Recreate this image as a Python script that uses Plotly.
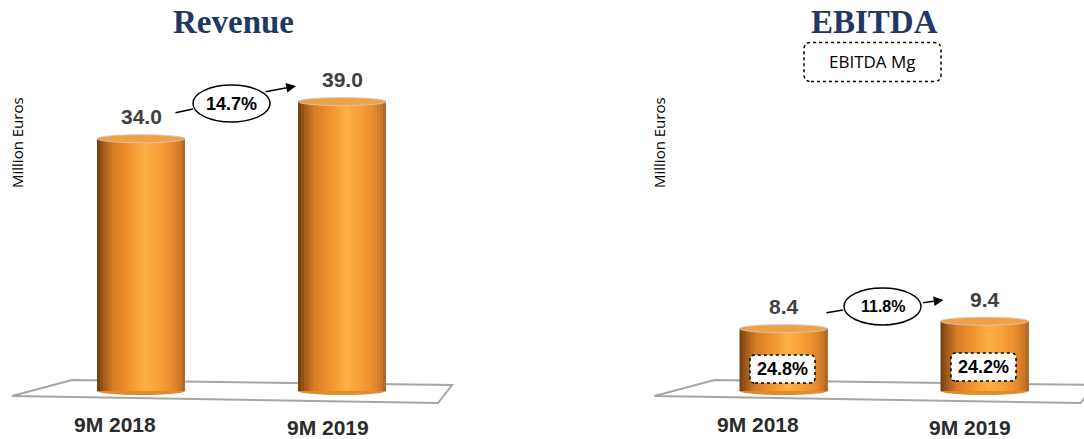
import plotly.graph_objects as go

# ---------------- data ----------------
categories = ["9M 2018", "9M 2019"]
revenue = [34.0, 39.0]
ebitda = [8.4, 9.4]
revenue_labels = ["34.0", "39.0"]
ebitda_labels = ["8.4", "9.4"]
revenue_growth = "14.7%"
ebitda_growth = "11.8%"
ebitda_margin = ["24.8%", "24.2%"]
panel_titles = ["Revenue", "EBITDA"]
y_title = "Million Euros"
margin_box_label = "EBITDA Mg"

# ---------------- layout constants (style) ----------------
W, H = 1084, 439
PX_PER_CAT = 201.0
PX_PER_UNIT = 7.42
BASE_PX = 391.0
BAR_W = 88.0 / PX_PER_CAT
X_LO = -0.7
LEFT_DOM_PX = (141 + X_LO * PX_PER_CAT, 141 + 1.7 * PX_PER_CAT)
RIGHT_START = 783.5 + X_LO * PX_PER_CAT
RIGHT_HI = X_LO + (W - RIGHT_START) / PX_PER_CAT
Y_RANGE = [-(H - BASE_PX) / PX_PER_UNIT, BASE_PX / PX_PER_UNIT]

FONT_NUM = "Liberation Sans, Arial, sans-serif"
FONT_TITLE = "Liberation Serif, Times New Roman, serif"
FONT_BODY = "Open Sans, Noto Sans, sans-serif"

grad_stops = [
    (0.00, (0x6E, 0x3C, 0x12)),
    (0.06, (0x9A, 0x55, 0x18)),
    (0.18, (0xD4, 0x7C, 0x26)),
    (0.35, (0xF0, 0x91, 0x2E)),
    (0.55, (0xFD, 0xB0, 0x43)),
    (0.68, (0xF9, 0xA2, 0x3A)),
    (0.82, (0xEE, 0x91, 0x30)),
    (0.94, (0xD1, 0x7A, 0x28)),
    (1.00, (0xA0, 0x61, 0x2A)),
]


def grad_color(t):
    for (p0, c0), (p1, c1) in zip(grad_stops[:-1], grad_stops[1:]):
        if p0 <= t <= p1:
            f = (t - p0) / (p1 - p0) if p1 > p0 else 0
            c = [round(a + (b - a) * f) for a, b in zip(c0, c1)]
            return "rgb(%d,%d,%d)" % tuple(c)
    return "rgb(%d,%d,%d)" % grad_stops[-1][1]


N_STRIPS = 30
xpos = list(range(len(categories)))

fig = go.Figure()
shapes = []
annotations = []


def rounded_rect_path(cx, cy, w, h, r):
    l, rr, b, t = cx - w / 2, cx + w / 2, cy - h / 2, cy + h / 2
    return (f"M {l + r},{b} L {rr - r},{b} Q {rr},{b} {rr},{b + r} "
            f"L {rr},{t - r} Q {rr},{t} {rr - r},{t} L {l + r},{t} "
            f"Q {l},{t} {l},{t - r} L {l},{b + r} Q {l},{b} {l + r},{b} Z")


panels = [
    dict(xa="x", ya="y", values=revenue, labels=revenue_labels, growth=revenue_growth,
         growth_size=18, ell_dx=-110.5, ell_dy=-1.9,
         line_shift=(52, 29.7), line_tail=(-19, 4),
         arrow_shift=(-46, 15.6), arrow_tail=(-32, 6), margins=None),
    dict(xa="x2", ya="y2", values=ebitda, labels=ebitda_labels, growth=ebitda_growth,
         growth_size=16, ell_dx=-102, ell_dy=14.8,
         line_shift=(59.5, 18.7), line_tail=(-18, 3),
         arrow_shift=(-41, 21.3), arrow_tail=(-22, 3), margins=ebitda_margin),
]

cat_xshift = [-26, -14.5]
cat_yshift = [-33, -36]
margin_dy = [22, 24]

for p in panels:
    xa, ya, vals = p["xa"], p["ya"], p["values"]
    # floor (perspective plane)
    fx = [-0.642, -0.343, 1.547, 1.478]
    fy = [(BASE_PX - v) / PX_PER_UNIT for v in (396, 380, 385, 403)]
    path = "M " + " L ".join(f"{a},{b}" for a, b in zip(fx, fy)) + " Z"
    shapes.append(dict(type="path", xref=xa, yref=ya, path=path,
                       line=dict(color="#A6A6A6", width=2), fillcolor="rgba(0,0,0,0)",
                       layer="below"))
    # bottom ellipse of cylinders
    for i in xpos:
        shapes.append(dict(type="circle", xref=xa, yref=ya, x0=i - BAR_W / 2, x1=i + BAR_W / 2,
                           ysizemode="pixel", yanchor=0, y0=-4, y1=4,
                           fillcolor="#E38A2E", line=dict(width=0), layer="below"))
    # cylinder body as gradient strips (each strip runs to the right edge, drawn left->right)
    sw = BAR_W / N_STRIPS
    for k in range(N_STRIPS):
        t = (k + 0.5) / N_STRIPS
        fig.add_trace(go.Bar(x=xpos, y=vals, width=[BAR_W - k * sw] * len(xpos),
                             offset=[-BAR_W / 2 + k * sw] * len(xpos),
                             marker=dict(color=grad_color(t), line=dict(width=0)),
                             xaxis=xa, yaxis=ya, showlegend=False, hoverinfo="skip"))
    # top ellipse
    for i, v in zip(xpos, vals):
        shapes.append(dict(type="circle", xref=xa, yref=ya, x0=i - BAR_W / 2, x1=i + BAR_W / 2,
                           ysizemode="pixel", yanchor=v, y0=-4, y1=4,
                           fillcolor="#F0A045", line=dict(color="rgba(210,200,190,0.9)", width=1)))
    # value labels
    for i, v, lab in zip(xpos, vals, p["labels"]):
        annotations.append(dict(x=i, y=v, xref=xa, yref=ya, text=f"<b>{lab}</b>", showarrow=False,
                                yanchor="middle", yshift=22,
                                font=dict(family=FONT_NUM, size=21, color="#404040")))
    # category labels
    for i, c in zip(xpos, categories):
        annotations.append(dict(x=i, y=0, xref=xa, yref=ya, text=f"<b>{c}</b>", showarrow=False,
                                yanchor="middle", xshift=cat_xshift[i], yshift=cat_yshift[i],
                                font=dict(family=FONT_NUM, size=21, color="#2B2B2B")))
    # growth ellipse
    ex, ey = p["ell_dx"], p["ell_dy"]
    shapes.append(dict(type="circle", xref=xa, yref=ya, xsizemode="pixel", ysizemode="pixel",
                       xanchor=xpos[1], yanchor=vals[1],
                       x0=ex - 38.5, x1=ex + 38.5, y0=ey - 18.5, y1=ey + 18.5,
                       fillcolor="white", line=dict(color="black", width=1.5)))
    annotations.append(dict(x=xpos[1], y=vals[1], xref=xa, yref=ya, text=f"<b>{p['growth']}</b>",
                            showarrow=False, xshift=ex, yshift=ey, yanchor="middle",
                            font=dict(family=FONT_NUM, size=p["growth_size"], color="black")))
    # connector line and arrow
    annotations.append(dict(x=xpos[0], y=vals[0], xref=xa, yref=ya, text="", showarrow=True,
                            arrowhead=0, arrowwidth=1.5, arrowcolor="black",
                            xshift=p["line_shift"][0], yshift=p["line_shift"][1],
                            ax=p["line_tail"][0], ay=p["line_tail"][1]))
    annotations.append(dict(x=xpos[1], y=vals[1], xref=xa, yref=ya, text="", showarrow=True,
                            arrowhead=2, arrowsize=1.3, arrowwidth=1.5, arrowcolor="black",
                            xshift=p["arrow_shift"][0], yshift=p["arrow_shift"][1],
                            ax=p["arrow_tail"][0], ay=p["arrow_tail"][1]))
    # margin boxes
    if p["margins"]:
        for i, m in zip(xpos, p["margins"]):
            dy = margin_dy[i]
            shapes.append(dict(type="path", xref=xa, yref=ya, xsizemode="pixel", ysizemode="pixel",
                               xanchor=i, yanchor=0,
                               path=rounded_rect_path(-1, dy, 65, 28, 5),
                               fillcolor="white", line=dict(color="black", width=1.5, dash="dot")))
            annotations.append(dict(x=i, y=0, xref=xa, yref=ya, text=f"<b>{m}</b>", showarrow=False,
                                    xshift=-1, yshift=dy, yanchor="middle",
                                    font=dict(family=FONT_NUM, size=18, color="black")))

# titles
for t, cx in zip(panel_titles, [233.5, 874.5]):
    annotations.append(dict(x=cx / W, y=1 - 22 / H, xref="paper", yref="paper", text=f"<b>{t}</b>",
                            showarrow=False, xanchor="center", yanchor="middle",
                            font=dict(family=FONT_TITLE, size=33, color="#1F3864")))
# y-axis titles
for cx in [17, 659]:
    annotations.append(dict(x=cx / W, y=1 - 143 / H, xref="paper", yref="paper", text=y_title,
                            showarrow=False, textangle=-90, xanchor="center", yanchor="middle",
                            font=dict(family=FONT_BODY, size=15, color="black")))
# EBITDA Mg legend box
shapes.append(dict(type="path", xref="paper", yref="paper", xsizemode="pixel", ysizemode="pixel",
                   xanchor=872.5 / W, yanchor=1 - 62 / H,
                   path=rounded_rect_path(0, 0, 137, 39, 7),
                   fillcolor="white", line=dict(color="black", width=1.5, dash="dot")))
annotations.append(dict(x=872.5 / W, y=1 - 62 / H, xref="paper", yref="paper", text=margin_box_label,
                        showarrow=False, xanchor="center", yanchor="middle",
                        font=dict(family=FONT_BODY, size=17, color="black")))

ax_common = dict(showgrid=False, zeroline=False, showticklabels=False, showline=False, ticks="",
                 fixedrange=True)
fig.update_layout(
    width=W, height=H, margin=dict(l=0, r=0, t=0, b=0),
    paper_bgcolor="white", plot_bgcolor="rgba(0,0,0,0)",
    barmode="overlay", showlegend=False,
    xaxis=dict(domain=[LEFT_DOM_PX[0] / W, LEFT_DOM_PX[1] / W], range=[X_LO, 1.7], **ax_common),
    yaxis=dict(domain=[0, 1], range=Y_RANGE, anchor="x", **ax_common),
    xaxis2=dict(domain=[RIGHT_START / W, 1], range=[X_LO, RIGHT_HI], anchor="y2", **ax_common),
    yaxis2=dict(domain=[0, 1], range=Y_RANGE, anchor="x2", **ax_common),
    shapes=shapes, annotations=annotations,
)

fig.write_html("out.html", config={"displayModeBar": False},
               post_script="document.body.style.margin='0';document.body.style.overflow='hidden';")
